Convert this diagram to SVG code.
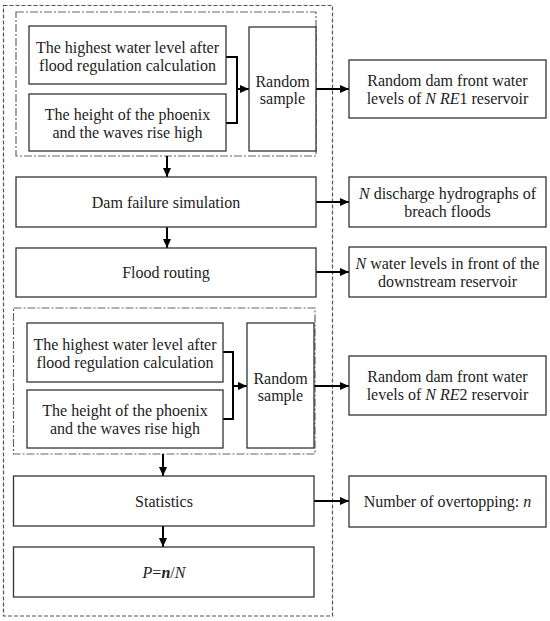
<svg xmlns="http://www.w3.org/2000/svg" width="550" height="621" viewBox="0 0 550 621">
<style>
text{font-family:'Liberation Serif','Times New Roman',Times,serif;font-size:16px;fill:#222;text-anchor:middle}
.box{fill:#fff;stroke:#333;stroke-width:1.3}
.outer{fill:none;stroke:#555;stroke-width:1.2;stroke-dasharray:4 2}
.group{fill:none;stroke:#666;stroke-width:1.2;stroke-dasharray:8 2 2 2}
.ln{fill:none;stroke:#000;stroke-width:2}
.i{font-style:italic}
.bi{font-style:italic;font-weight:bold}
</style>
<defs>
<marker id="ah" markerUnits="userSpaceOnUse" markerWidth="10" markerHeight="10" refX="9" refY="5" orient="auto">
<path d="M0,1 L9,5 L0,9 z" fill="#000"/>
</marker>
</defs>
<rect width="550" height="621" fill="#fff"/>
<g id="outer-frame"><rect class="outer" x="3.5" y="5.5" width="329" height="610.5"/></g>
<g id="group1"><rect class="group" x="16" y="12" width="300" height="144"/></g>
<g id="group2"><rect class="group" x="13.5" y="308" width="301.5" height="146"/></g>
<g id="connectors">
<path class="ln" d="M226,57 H237 V123 H226"/>
<path class="ln" d="M237,89 H249" marker-end="url(#ah)"/>
<path class="ln" d="M316,89 H349" marker-end="url(#ah)"/>
<path class="ln" d="M167,156 V177" marker-end="url(#ah)"/>
<path class="ln" d="M316,202 H349" marker-end="url(#ah)"/>
<path class="ln" d="M167,227 V248" marker-end="url(#ah)"/>
<path class="ln" d="M316,272 H349" marker-end="url(#ah)"/>
<path class="ln" d="M223,352 H233 V419 H223"/>
<path class="ln" d="M233,386 H247" marker-end="url(#ah)"/>
<path class="ln" d="M314,386 H349" marker-end="url(#ah)"/>
<path class="ln" d="M163,454 V476" marker-end="url(#ah)"/>
<path class="ln" d="M314,501 H349" marker-end="url(#ah)"/>
<path class="ln" d="M163,526 V547" marker-end="url(#ah)"/>
</g>
<g font-family="Liberation Serif, serif">
<g id="a1"><rect class="box" x="29" y="26" width="197" height="58"/>
<text x="127.5" y="53">The highest water level after</text><text x="127.5" y="71">flood regulation calculation</text></g>
<g id="a2"><rect class="box" x="29" y="94" width="197" height="57"/>
<text x="127.5" y="120">The height of the phoenix</text><text x="127.5" y="138">and the waves rise high</text></g>
<g id="rs1"><rect class="box" x="249" y="27" width="67" height="124"/>
<text x="282.5" y="87">Random</text><text x="282.5" y="104">sample</text></g>
<g id="r1"><rect class="box" x="349" y="60" width="197" height="58"/>
<text x="447.5" y="86">Random dam front water</text><text x="447.5" y="104">levels of <tspan class="i">N RE</tspan>1 reservoir</text></g>
<g id="dam"><rect class="box" x="16" y="177" width="300" height="50"/>
<text x="166" y="207.5">Dam failure simulation</text></g>
<g id="r2"><rect class="box" x="349" y="177" width="197" height="50"/>
<text x="447.5" y="199"><tspan class="i">N</tspan> discharge hydrographs of</text><text x="447.5" y="217">breach floods</text></g>
<g id="flood"><rect class="box" x="16" y="248" width="300" height="49"/>
<text x="166" y="278">Flood routing</text></g>
<g id="r3"><rect class="box" x="349" y="247" width="197" height="50"/>
<text x="447.5" y="269"><tspan class="i">N</tspan> water levels in front of the</text><text x="447.5" y="287">downstream reservoir</text></g>
<g id="b1"><rect class="box" x="27" y="323" width="196" height="59"/>
<text x="125" y="350">The highest water level after</text><text x="125" y="368">flood regulation calculation</text></g>
<g id="b2"><rect class="box" x="27" y="390" width="196" height="58"/>
<text x="125" y="416">The height of the phoenix</text><text x="125" y="434">and the waves rise high</text></g>
<g id="rs2"><rect class="box" x="247" y="323" width="67" height="125"/>
<text x="280.5" y="384">Random</text><text x="280.5" y="401">sample</text></g>
<g id="r4"><rect class="box" x="349" y="356" width="197" height="59"/>
<text x="447.5" y="382">Random dam front water</text><text x="447.5" y="400">levels of <tspan class="i">N RE</tspan>2 reservoir</text></g>
<g id="stats"><rect class="box" x="13.5" y="476" width="300.5" height="50"/>
<text x="164" y="506.5">Statistics</text></g>
<g id="r5"><rect class="box" x="349" y="476" width="197" height="51"/>
<text x="447.5" y="507">Number of overtopping: <tspan class="i">n</tspan></text></g>
<g id="p"><rect class="box" x="13.5" y="547" width="300.5" height="50"/>
<text x="164" y="577.5"><tspan class="i">P</tspan>=<tspan class="bi">n</tspan>/<tspan class="i">N</tspan></text></g>
</g>
</svg>
